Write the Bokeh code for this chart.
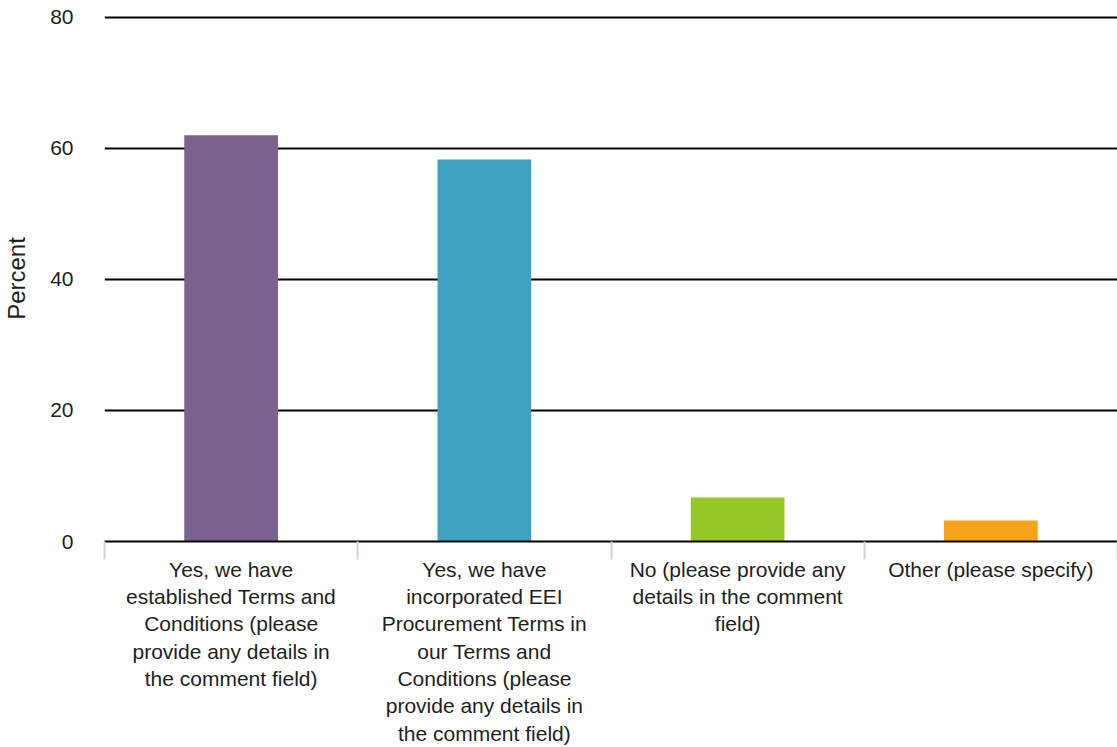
from bokeh.plotting import figure
from bokeh.models import FixedTicker, Range1d, ColumnDataSource
from bokeh.embed import file_html
from bokeh.resources import INLINE

categories = [
    "Yes, we have\nestablished Terms and\nConditions (please\nprovide any details in\nthe comment field)",
    "Yes, we have\nincorporated EEI\nProcurement Terms in\nour Terms and\nConditions (please\nprovide any details in\nthe comment field)",
    "No (please provide any\ndetails in the comment\nfield)",
    "Other (please specify)",
]
values = [62.0, 58.3, 6.7, 3.2]
colors = ["#7B618F", "#3FA2C1", "#94C827", "#F5A31A"]
y_ticks = [0, 20, 40, 60, 80]

FONT = "Liberation Sans"
TXT = "#1e1e1e"

positions = [i + 0.5 for i in range(len(categories))]
boundaries = [float(i) for i in range(len(categories) + 1)]

src = ColumnDataSource(dict(x=positions, top=values, color=colors))

p = figure(width=1117, height=747, output_backend="svg", toolbar_location=None,
           x_range=Range1d(0, len(categories)), y_range=Range1d(0, 80.3),
           min_border_left=104, min_border_right=0, min_border_top=15, min_border_bottom=206)
p.outline_line_color = None
p.background_fill_color = "white"
p.border_fill_color = "white"

p.vbar(x="x", top="top", width=0.37, color="color", source=src, line_color=None)

# x axis
xa = p.xaxis[0]
xa.ticker = FixedTicker(ticks=positions, minor_ticks=boundaries)
xa.major_label_overrides = {float(pos): lab for pos, lab in zip(positions, categories)}
xa.major_tick_line_color = None
xa.major_tick_out = 0
xa.major_tick_in = 0
xa.minor_tick_line_color = "#c9d3e6"
xa.minor_tick_line_width = 2
xa.minor_tick_out = 18
xa.minor_tick_in = 0
xa.axis_line_color = "black"
xa.axis_line_width = 2
xa.major_label_text_font = FONT
xa.major_label_text_font_size = "21px"
xa.major_label_text_color = TXT
xa.major_label_text_line_height = 1.19
xa.major_label_standoff = -2

# y axis
ya = p.yaxis[0]
ya.ticker = FixedTicker(ticks=y_ticks)
ya.axis_line_color = None
ya.major_tick_line_color = None
ya.minor_tick_line_color = None
ya.major_tick_out = 0
ya.major_tick_in = 0
ya.major_label_standoff = 31
ya.major_label_text_font = FONT
ya.major_label_text_font_size = "21px"
ya.major_label_text_color = TXT
ya.axis_label = "Percent"
ya.axis_label_text_font = FONT
ya.axis_label_text_font_size = "24px"
ya.axis_label_text_font_style = "normal"
ya.axis_label_text_color = TXT
ya.axis_label_standoff = 17

p.xgrid.grid_line_color = None
p.ygrid.ticker = FixedTicker(ticks=y_ticks)
p.ygrid.grid_line_color = "black"
p.ygrid.grid_line_width = 2

open("out.html", "w").write(file_html(p, INLINE))
